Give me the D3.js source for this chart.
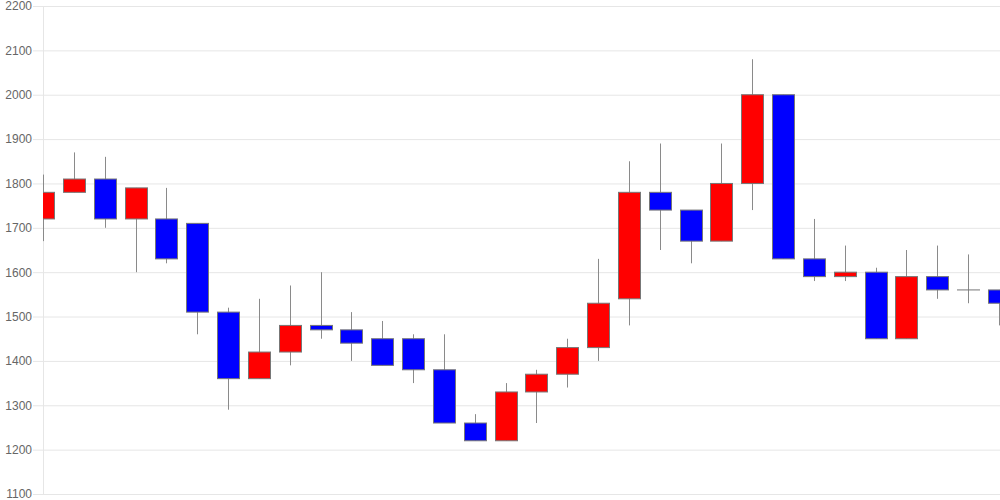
<!DOCTYPE html>
<html><head><meta charset="utf-8">
<script src="https://cdn.jsdelivr.net/npm/d3@7"></script>
<style>body{margin:0;background:#fff}svg{display:block}</style>
</head><body>
<script>
const categories = d3.range(1, 33).map(String);
const openVals  = [1720,1780,1810,1720,1720,1710,1510,1360,1420,1480,1470,1450,1450,1380,1260,1220,1330,1370,1430,1540,1780,1740,1670,1800,2000,1630,1590,1600,1450,1590,1560,1560];
const highVals  = [1820,1870,1860,1790,1790,1710,1520,1540,1570,1600,1510,1490,1460,1460,1280,1350,1380,1450,1630,1850,1890,1740,1890,2080,2000,1720,1660,1610,1650,1660,1640,1560];
const lowVals   = [1670,1780,1700,1600,1620,1460,1290,1360,1390,1450,1400,1390,1350,1260,1220,1220,1260,1340,1400,1480,1650,1620,1670,1740,1630,1580,1580,1450,1450,1540,1530,1480];
const closeVals = [1780,1810,1720,1790,1630,1510,1360,1420,1480,1470,1440,1390,1380,1260,1220,1330,1370,1430,1530,1780,1740,1670,1800,2000,1630,1590,1600,1450,1590,1560,1560,1530];
const yTicks = [1100,1200,1300,1400,1500,1600,1700,1800,1900,2000,2100,2200];

const W = 1000, H = 500;
const svg = d3.select("body").append("svg").attr("width", W).attr("height", H);

const x = d3.scalePoint().domain(categories).range([43, 999]);
const y = d3.scaleLinear().domain([1100, 2200]).range([494, 6]);

const data = categories.map((c, i) => ({c, o: openVals[i], h: highVals[i], l: lowVals[i], cl: closeVals[i]}));

// grid + axis
const yAxis = d3.axisLeft(y).tickValues(yTicks).tickSize(-(W - 33)).tickPadding(1).tickFormat(d3.format("d"));
const gAx = svg.append("g").attr("transform", "translate(33,0)").call(yAxis);
gAx.select(".domain").remove();
gAx.selectAll(".tick line").attr("stroke", "#e6e6e6").attr("stroke-width", 1);
gAx.selectAll(".tick text").attr("fill", "#666").attr("font-family", "Liberation Sans, Arial, sans-serif").attr("font-size", 12);

svg.append("line").attr("x1", 43.5).attr("x2", 43.5).attr("y1", 6).attr("y2", 494).attr("stroke", "#e6e6e6");

svg.append("clipPath").attr("id", "plot").append("rect").attr("x", 43).attr("y", 0).attr("width", W - 43).attr("height", H);

const g = svg.append("g").attr("clip-path", "url(#plot)");
const bw = 22;

g.selectAll("line.wick").data(data).join("line").attr("class", "wick")
  .attr("x1", d => Math.round(x(d.c)) + 0.5).attr("x2", d => Math.round(x(d.c)) + 0.5)
  .attr("y1", d => y(d.h)).attr("y2", d => y(d.l))
  .attr("stroke", "#8a8a8a").attr("stroke-width", 1);

g.selectAll("rect.body").data(data).join("rect").attr("class", "body")
  .attr("x", d => Math.round(x(d.c)) - bw / 2 + 0.5)
  .attr("y", d => y(Math.max(d.o, d.cl)))
  .attr("width", bw)
  .attr("height", d => Math.max(0.01, Math.abs(y(d.o) - y(d.cl))))
  .attr("fill", d => d.cl > d.o ? "#ff0000" : "#0000ff")
  .attr("stroke", "#777").attr("stroke-width", 1);
</script>
</body></html>
